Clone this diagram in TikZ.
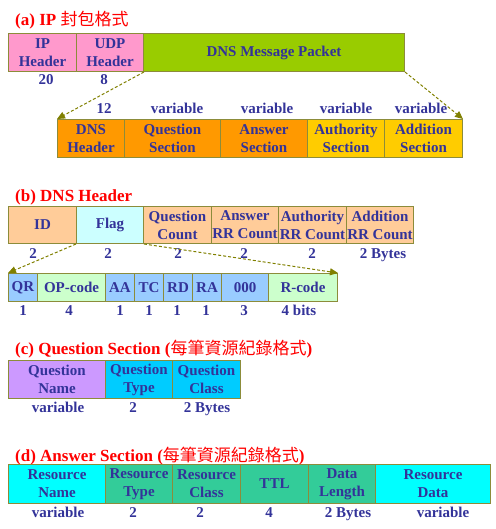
\documentclass[tikz,border=0pt]{standalone}
\usepackage{fontspec}
\setmainfont{Liberation Serif}
\newfontfamily\cjkfont{Noto Sans CJK TC}
\usetikzlibrary{arrows.meta}
\definecolor{fieldedge}{HTML}{8C8C3A}
\definecolor{fieldtext}{HTML}{333399}
\definecolor{headred}{HTML}{FF0000}
\definecolor{arrowolive}{HTML}{808000}
\definecolor{hdrpink}{HTML}{FF99CC}
\definecolor{msggreen}{HTML}{99CC00}
\definecolor{secorange}{HTML}{FF9900}
\definecolor{secyellow}{HTML}{FFCC00}
\definecolor{cntpeach}{HTML}{FFCC99}
\definecolor{flagcyan}{HTML}{CCFFFF}
\definecolor{bitblue}{HTML}{99CCFF}
\definecolor{codegreen}{HTML}{CCFFCC}
\definecolor{namepurple}{HTML}{CC99FF}
\definecolor{qsky}{HTML}{00CCFF}
\definecolor{rraqua}{HTML}{00FFFF}
\definecolor{rrteal}{HTML}{33CC99}
\newcommand{\fieldfont}{\fontsize{15}{18}\selectfont\bfseries}
\newcommand{\headfont}{\fontsize{17}{19}\selectfont\bfseries}
\newcommand{\headcjk}[1]{{\cjkfont\mdseries\fontsize{17}{19}\selectfont #1}}
\tikzset{
  field/.style={draw=fieldedge,line width=1pt,inner sep=0pt,anchor=north west,
    minimum height=38pt,align=center,text=fieldtext,font=\fieldfont},
  sizelabel/.style={anchor=base,inner sep=0pt,text=fieldtext,font=\fieldfont},
  heading/.style={anchor=base west,inner sep=0pt,text=headred,font=\headfont},
  expand/.style={draw=arrowolive,line width=1pt,dash pattern=on 3pt off 2pt,
    -{Triangle[length=8pt,width=7pt]}}
}
\begin{document}
\begin{tikzpicture}[x=1pt,y=-1pt]
  \useasboundingbox (0,0) rectangle (495,529);
  % (a) IP packet
  \node[heading] (titlea) at (15,26) {(a) IP \headcjk{封包格式}};
  \node[field,fill=hdrpink,minimum width=68pt] (iphdr) at (8,33) {IP\\Header};
  \node[field,fill=hdrpink,minimum width=67pt] (udphdr) at (76,33) {UDP\\Header};
  \node[field,fill=msggreen,minimum width=261pt] (dnsmsg) at (143,33) {DNS Message Packet};
  \node[sizelabel] (ipsize) at (46,85) {20};
  \node[sizelabel] (udpsize) at (104,85) {8};
  \node[field,fill=secorange,minimum width=67pt] (dnshdr) at (57,119) {DNS\\Header};
  \node[field,fill=secorange,minimum width=96pt] (qsec) at (124,119) {Question\\Section};
  \node[field,fill=secorange,minimum width=87pt] (ansec) at (220,119) {Answer\\Section};
  \node[field,fill=secyellow,minimum width=77pt] (authsec) at (307,119) {Authority\\Section};
  \node[field,fill=secyellow,minimum width=78pt] (addsec) at (384,119) {Addition\\Section};
  \foreach \sz/\x [count=\i] in {12/104,variable/177,variable/267,variable/346,variable/421}
    \node[sizelabel] (secsize\i) at (\x,114) {\sz};
  \draw[expand] (udphdr.south east) -- (dnshdr.north west);
  \draw[expand] (dnsmsg.south east) -- (addsec.north east);
  % (b) DNS header
  \node[heading] (titleb) at (15,201) {(b) DNS Header};
  \node[field,fill=cntpeach,minimum width=68pt,minimum height=37pt] (id) at (8,206) {ID};
  \node[field,fill=flagcyan,minimum width=67pt,minimum height=37pt] (flag) at (76,206) {Flag};
  \node[field,fill=cntpeach,minimum width=68pt,minimum height=37pt] (qdcount) at (143,206) {Question\\Count};
  \node[field,fill=cntpeach,minimum width=67pt,minimum height=37pt] (ancount) at (211,206) {Answer\\RR Count};
  \node[field,fill=cntpeach,minimum width=68pt,minimum height=37pt] (nscount) at (278,206) {Authority\\RR Count};
  \node[field,fill=cntpeach,minimum width=67pt,minimum height=37pt] (arcount) at (346,206) {Addition\\RR Count};
  \foreach \sz/\x [count=\i] in {2/33,2/108,2/178,2/244,2/312,2 Bytes/383}
    \node[sizelabel] (hdrsize\i) at (\x,258) {\sz};
  \node[field,fill=bitblue,minimum width=29pt,minimum height=28pt] (qr) at (8,273) {QR};
  \node[field,fill=codegreen,minimum width=68pt,minimum height=28pt] (opcode) at (37,273) {OP-code};
  \node[field,fill=bitblue,minimum width=29pt,minimum height=28pt] (aa) at (105,273) {AA};
  \node[field,fill=bitblue,minimum width=29pt,minimum height=28pt] (tc) at (134,273) {TC};
  \node[field,fill=bitblue,minimum width=29pt,minimum height=28pt] (rd) at (163,273) {RD};
  \node[field,fill=bitblue,minimum width=29pt,minimum height=28pt] (ra) at (192,273) {RA};
  \node[field,fill=bitblue,minimum width=47pt,minimum height=28pt] (zero) at (221,273) {000};
  \node[field,fill=codegreen,minimum width=69pt,minimum height=28pt] (rcode) at (268,273) {R-code};
  \foreach \sz/\x [count=\i] in {1/23,4/69,1/120,1/149,1/177,1/206,3/244,4 bits/299}
    \node[sizelabel] (bitsize\i) at (\x,315) {\sz};
  \draw[expand] (flag.south west) -- (qr.north west);
  \draw[expand] (flag.south east) -- (rcode.north east);
  % (c) question section
  \node[heading] (titlec) at (15,354) {(c) Question Section (\headcjk{每筆資源紀錄格式})};
  \node[field,fill=namepurple,minimum width=97pt] (qname) at (8,360) {Question\\Name};
  \node[field,fill=qsky,minimum width=67pt] (qtype) at (105,360) {Question\\Type};
  \node[field,fill=qsky,minimum width=68pt] (qclass) at (172,360) {Question\\Class};
  \foreach \sz/\x [count=\i] in {variable/58,2/133,2 Bytes/207}
    \node[sizelabel] (qsize\i) at (\x,412) {\sz};
  % (d) answer section
  \node[heading] (titled) at (15,461) {(d) Answer Section (\headcjk{每筆資源紀錄格式})};
  \node[field,fill=rraqua,minimum width=97pt,minimum height=39pt] (rrname) at (8,464) {Resource\\Name};
  \node[field,fill=rrteal,minimum width=67pt,minimum height=39pt] (rrtype) at (105,464) {Resource\\Type};
  \node[field,fill=rrteal,minimum width=68pt,minimum height=39pt] (rrclass) at (172,464) {Resource\\Class};
  \node[field,fill=rrteal,minimum width=68pt,minimum height=39pt] (ttl) at (240,464) {TTL};
  \node[field,fill=rrteal,minimum width=67pt,minimum height=39pt] (rdlength) at (308,464) {Data\\Length};
  \node[field,fill=rraqua,minimum width=115pt,minimum height=39pt] (rdata) at (375,464) {Resource\\Data};
  \foreach \sz/\x [count=\i] in {variable/58,2/133,2/200,4/269,2 Bytes/348,variable/443}
    \node[sizelabel] (rrsize\i) at (\x,517) {\sz};
\end{tikzpicture}
\end{document}
